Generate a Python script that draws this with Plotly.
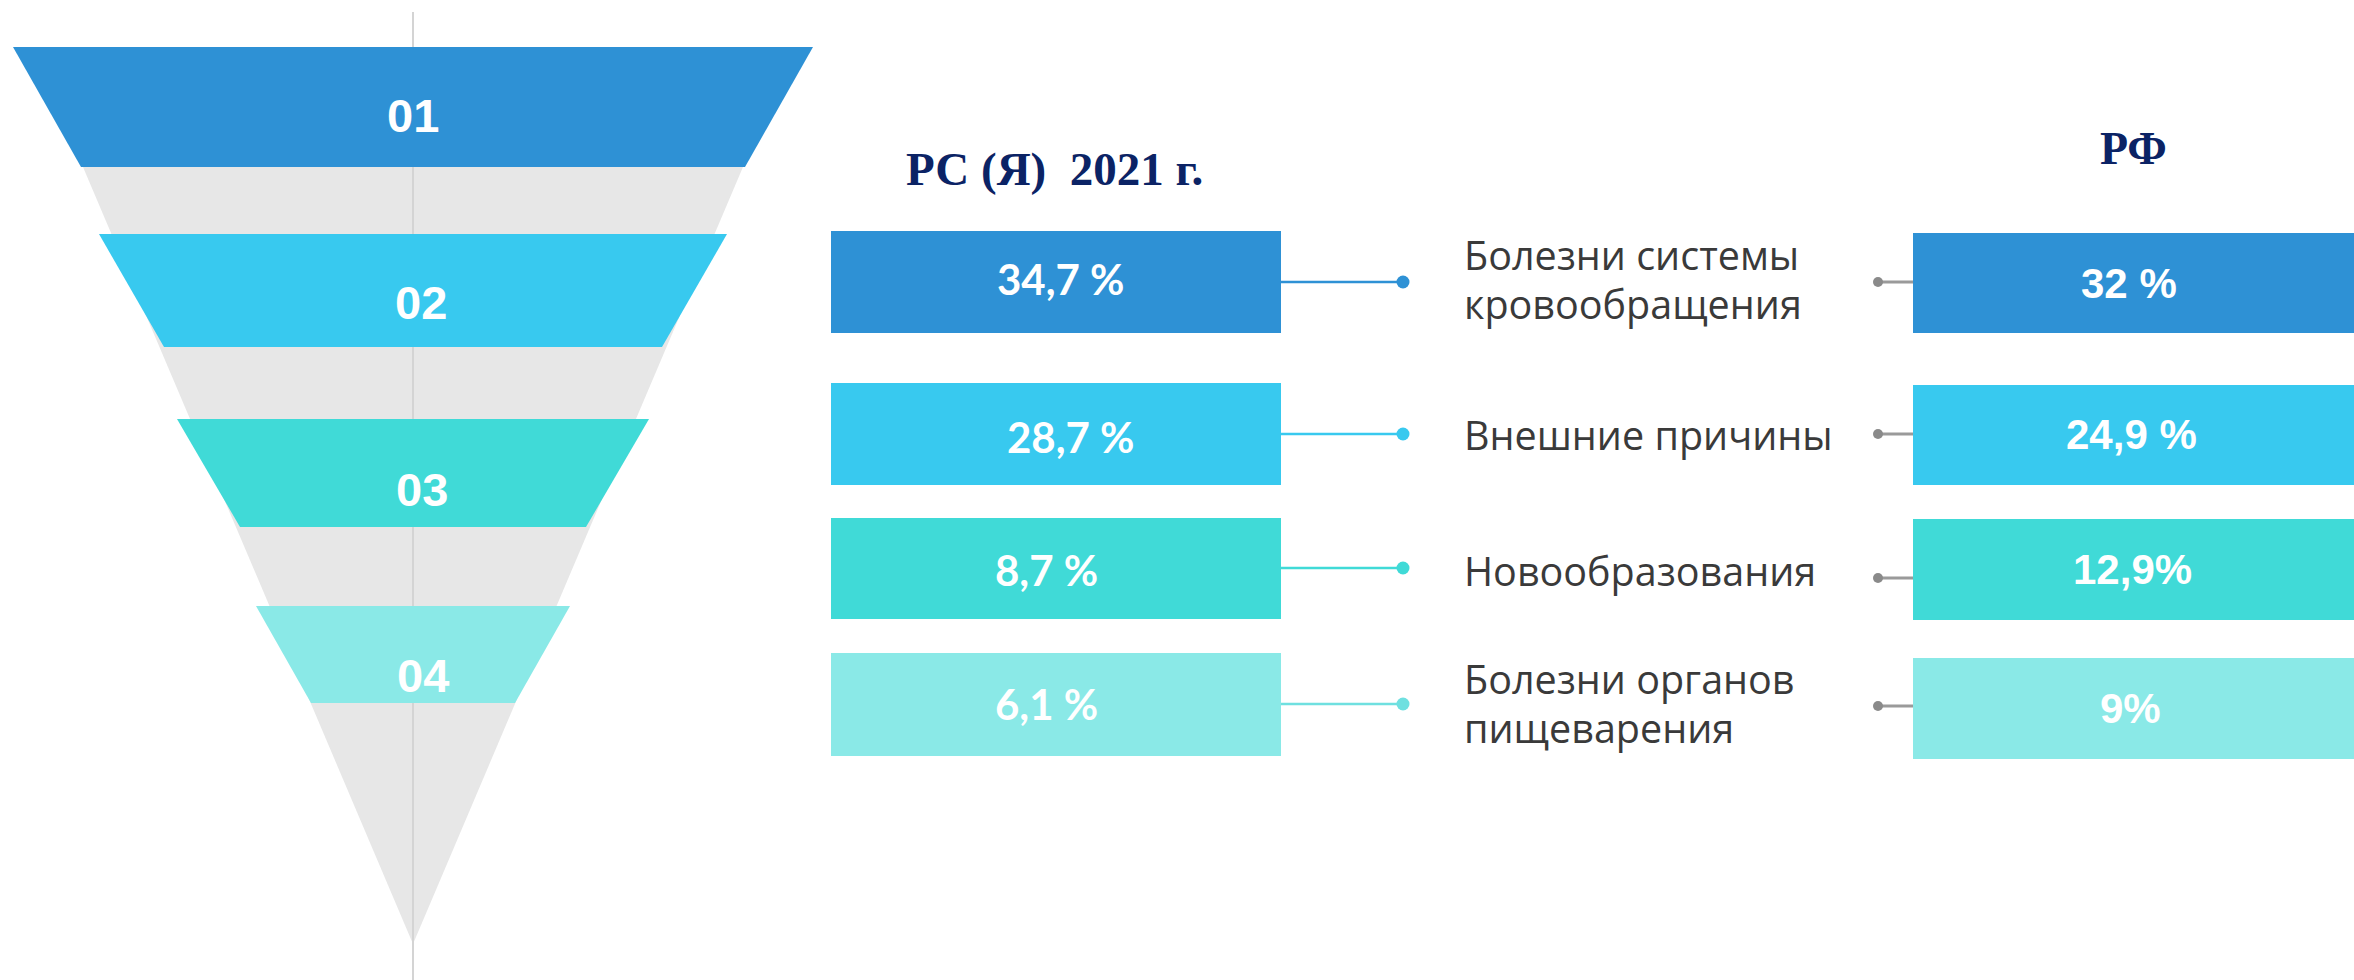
import plotly.graph_objects as go

# ---------------- data ----------------
ranks = ["01", "02", "03", "04"]
cause_lines = [
    ["Болезни системы", "кровообращения"],
    ["Внешние причины"],
    ["Новообразования"],
    ["Болезни органов", "пищеварения"],
]
rs_share = [34.7, 28.7, 8.7, 6.1]          # РС (Я) 2021 г., %
rf_share = [32, 24.9, 12.9, 9]             # РФ, %
rs_labels = ["34,7 %", "28,7 %", "8,7 %", "6,1 %"]
rf_labels = ["32 %", "24,9 %", "12,9%", "9%"]
title_rs = "РС (Я)\u00a0\u00a02021 г."
title_rf = "РФ"

# ---------------- styles / layout constants ----------------
W, H = 2354, 980
colors = ["#2E91D5", "#38C9EF", "#40DAD7", "#8AE9E7"]
line_colors = ["#2E91D5", "#38C9EF", "#40DAD7", "#6FE0E0"]
gray_fill = "#E7E7E7"
navy = "#0B2365"

cx = 413
# funnel bands: (top y, bottom y, top half-width, bottom half-width)
band_top = [47, 234, 419, 606]
band_bot = [167, 347, 527, 703]
band_top_hw = [400, 314, 236, 157]
band_bot_hw = [332, 249, 173, 102]
rank_y = [115, 302, 489, 675]
rank_dx = [0, 8, 9, 10]
apex_y = 944
slope = 0.4247

# bars
lbar_x0, lbar_x1 = 831, 1281
rbar_x0, rbar_x1 = 1913, 2354
lbar_y0 = [231, 383, 518, 653]
lbar_y1 = [333, 485, 619, 756]
rbar_y0 = [233, 385, 519, 658]
rbar_y1 = [333, 485, 620, 759]
lconn_y = [282, 434, 568, 704]
rconn_y = [282, 434, 578, 706]
ltext_x = [1061, 1071, 1046, 1046]
ltext_y = [279, 437, 570, 704]
rtext_x = [2129, 2131, 2132, 2130]
rtext_y = [283, 434, 569, 708]
cause_x = 1462
cause_y = [[255, 304], [435], [571], [679, 728]]

fig = go.Figure()

def poly(xs, ys, color):
    fig.add_trace(go.Scatter(x=xs + [xs[0]], y=ys + [ys[0]], mode="lines", fill="toself",
                             fillcolor=color, line=dict(width=0, color=color),
                             hoverinfo="skip", showlegend=False))

# gray cone
top_y = band_top[0]
hw = (apex_y - top_y) * slope
poly([cx - hw, cx + hw, cx], [top_y, top_y, apex_y], gray_fill)

# vertical axis line
fig.add_trace(go.Scatter(x=[cx, cx], y=[12, H], mode="lines",
                         line=dict(color="#D4D4D4", width=2), hoverinfo="skip", showlegend=False))

# bands
for i in range(4):
    poly([cx - band_top_hw[i], cx + band_top_hw[i], cx + band_bot_hw[i], cx - band_bot_hw[i]],
         [band_top[i], band_top[i], band_bot[i], band_bot[i]], colors[i])

# bars
for i in range(4):
    poly([lbar_x0, lbar_x1, lbar_x1, lbar_x0], [lbar_y0[i], lbar_y0[i], lbar_y1[i], lbar_y1[i]], colors[i])
    poly([rbar_x0, rbar_x1, rbar_x1, rbar_x0], [rbar_y0[i], rbar_y0[i], rbar_y1[i], rbar_y1[i]], colors[i])

# connectors
for i in range(4):
    fig.add_trace(go.Scatter(x=[lbar_x1, 1403], y=[lconn_y[i], lconn_y[i]], mode="lines",
                             line=dict(color=line_colors[i], width=2.5), hoverinfo="skip", showlegend=False))
    fig.add_trace(go.Scatter(x=[1403], y=[lconn_y[i]], mode="markers",
                             marker=dict(color=line_colors[i], size=13), hoverinfo="skip", showlegend=False))
    fig.add_trace(go.Scatter(x=[1878, rbar_x0], y=[rconn_y[i], rconn_y[i]], mode="lines",
                             line=dict(color="#9A9A9A", width=3), hoverinfo="skip", showlegend=False))
    fig.add_trace(go.Scatter(x=[1878], y=[rconn_y[i]], mode="markers",
                             marker=dict(color="#8A8A8A", size=10), hoverinfo="skip", showlegend=False))

ann = []
for i in range(4):
    ann.append(dict(x=cx + rank_dx[i], y=rank_y[i], text=ranks[i], showarrow=False,
                    xanchor="center", yanchor="middle",
                    font=dict(family="Liberation Sans, Arial", size=47, color="white", weight="bold")))
    ann.append(dict(x=ltext_x[i], y=ltext_y[i], text=rs_labels[i], showarrow=False,
                    xanchor="center", yanchor="middle",
                    font=dict(family="Lato, Open Sans", size=42, color="white", weight="bold")))
    ann.append(dict(x=rtext_x[i], y=rtext_y[i], text=rf_labels[i], showarrow=False,
                    xanchor="center", yanchor="middle",
                    font=dict(family="Liberation Sans, Arial", size=42, color="white", weight="bold")))
    for line, yy in zip(cause_lines[i], cause_y[i]):
        ann.append(dict(x=cause_x, y=yy, text=line, showarrow=False,
                        xanchor="left", yanchor="middle",
                        font=dict(family="Open Sans", size=39.5, color="#3A3A3A")))

ann.append(dict(x=1054, y=169, text=title_rs, showarrow=False, xanchor="center", yanchor="middle",
                font=dict(family="Liberation Serif, Times New Roman", size=47, color=navy, weight="bold")))
ann.append(dict(x=2133, y=148, text=title_rf, showarrow=False, xanchor="center", yanchor="middle",
                font=dict(family="Liberation Serif, Times New Roman", size=46, color=navy, weight="bold")))

fig.update_layout(
    width=W, height=H,
    margin=dict(l=0, r=0, t=0, b=0),
    paper_bgcolor="white", plot_bgcolor="white",
    xaxis=dict(range=[0, W], visible=False, fixedrange=True),
    yaxis=dict(range=[H, 0], visible=False, fixedrange=True),
    annotations=ann,
    showlegend=False,
)

fig.write_html("out.html", config={"displayModeBar": False},
               post_script="document.body.style.margin='0';document.body.style.overflow='hidden';")
